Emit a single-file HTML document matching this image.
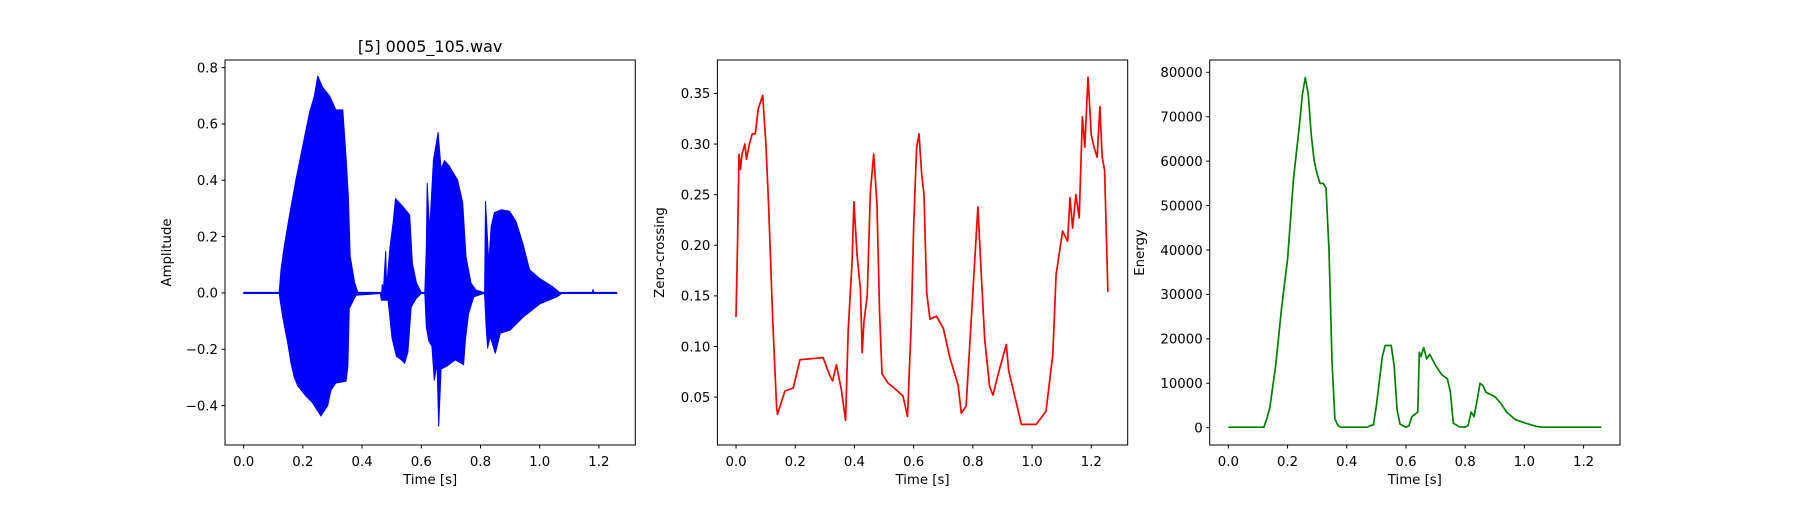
<!DOCTYPE html>
<html><head><meta charset="utf-8"><style>
body{margin:0;background:#fff}
svg text{font-family:"DejaVu Sans","Liberation Sans",sans-serif;font-size:13.3px;fill:#000}
</style></head><body>
<svg id="fig" width="1800" height="500" xmlns="http://www.w3.org/2000/svg"></svg>
<script>
// ---- Waveform envelope data ----
const waveUpT=[0,0.12,0.126,0.137,0.154,0.176,0.199,0.222,0.239,0.25,0.267,0.29,0.312,0.335,0.346,0.354,0.36,0.375,0.386,0.466,0.468,0.472,0.48,0.483,0.494,0.505,0.513,0.539,0.561,0.57,0.584,0.6,0.612,0.617,0.62,0.628,0.641,0.657,0.667,0.678,0.695,0.723,0.74,0.751,0.768,0.785,0.81,0.814,0.817,0.828,0.836,0.847,0.87,0.898,0.92,0.943,0.966,0.999,1.044,1.067,1.178,1.18,1.182,1.26];
const waveUpV=[0.002,0.002,0.08,0.165,0.27,0.40,0.52,0.638,0.70,0.77,0.73,0.70,0.65,0.65,0.48,0.34,0.13,0.035,0.002,0.002,0.03,0.01,0.148,0.02,0.16,0.25,0.335,0.305,0.277,0.105,0.035,0.002,0.002,0.16,0.39,0.22,0.47,0.57,0.44,0.47,0.45,0.40,0.32,0.13,0.035,0.01,0.002,0.002,0.325,0.105,0.235,0.285,0.295,0.29,0.254,0.176,0.082,0.052,0.022,0.002,0.002,0.012,0.002,0.002];
const waveLoT=[0,0.12,0.123,0.132,0.149,0.16,0.171,0.183,0.211,0.233,0.261,0.284,0.295,0.312,0.346,0.352,0.357,0.38,0.462,0.465,0.488,0.501,0.516,0.533,0.544,0.555,0.566,0.583,0.6,0.612,0.617,0.625,0.636,0.644,0.653,0.659,0.667,0.687,0.715,0.743,0.749,0.76,0.777,0.81,0.814,0.819,0.824,0.833,0.85,0.867,0.9,0.945,1.002,1.058,1.075,1.26];
const waveLoV=[-0.002,-0.002,-0.026,-0.085,-0.18,-0.25,-0.30,-0.33,-0.367,-0.39,-0.437,-0.40,-0.345,-0.32,-0.314,-0.26,-0.055,-0.008,-0.002,-0.026,-0.026,-0.16,-0.225,-0.238,-0.25,-0.21,-0.05,-0.02,-0.002,-0.002,-0.12,-0.17,-0.19,-0.31,-0.25,-0.473,-0.27,-0.26,-0.238,-0.255,-0.167,-0.073,-0.014,-0.002,-0.002,-0.12,-0.196,-0.155,-0.214,-0.143,-0.132,-0.085,-0.038,-0.014,-0.002,-0.002];
// ---- Zero-crossing data ----
const zcrT=[0,0.005,0.01,0.015,0.02,0.03,0.035,0.045,0.055,0.065,0.075,0.09,0.101,0.11,0.124,0.137,0.14,0.165,0.193,0.216,0.294,0.317,0.326,0.339,0.356,0.37,0.379,0.392,0.398,0.409,0.42,0.426,0.432,0.443,0.454,0.465,0.476,0.485,0.493,0.513,0.542,0.564,0.579,0.592,0.60,0.61,0.618,0.627,0.635,0.644,0.655,0.677,0.70,0.723,0.75,0.761,0.777,0.80,0.817,0.828,0.84,0.857,0.868,0.885,0.913,0.921,0.964,1.014,1.047,1.07,1.081,1.103,1.12,1.128,1.137,1.148,1.159,1.17,1.178,1.189,1.2,1.209,1.22,1.229,1.237,1.245,1.256];
const zcrV=[0.129,0.20,0.29,0.275,0.29,0.30,0.285,0.30,0.31,0.31,0.335,0.348,0.30,0.24,0.124,0.04,0.033,0.056,0.059,0.087,0.089,0.071,0.066,0.082,0.057,0.027,0.116,0.184,0.243,0.19,0.157,0.094,0.124,0.15,0.253,0.29,0.24,0.133,0.073,0.064,0.057,0.051,0.031,0.124,0.22,0.296,0.31,0.27,0.25,0.153,0.127,0.13,0.118,0.088,0.062,0.034,0.041,0.154,0.238,0.173,0.107,0.06,0.052,0.072,0.102,0.076,0.023,0.023,0.036,0.092,0.171,0.214,0.204,0.247,0.217,0.25,0.227,0.327,0.297,0.366,0.309,0.297,0.287,0.337,0.287,0.274,0.154];
// ---- Energy data ----
const enT=[0,0.12,0.13,0.14,0.16,0.18,0.20,0.22,0.24,0.25,0.26,0.27,0.28,0.29,0.30,0.31,0.32,0.33,0.34,0.35,0.36,0.37,0.38,0.47,0.48,0.49,0.50,0.52,0.53,0.55,0.56,0.57,0.58,0.60,0.61,0.62,0.63,0.64,0.645,0.65,0.66,0.67,0.68,0.70,0.72,0.74,0.75,0.76,0.78,0.80,0.81,0.82,0.83,0.84,0.85,0.86,0.87,0.90,0.92,0.94,0.97,1.00,1.04,1.06,1.26];
const enV=[100,100,2000,4500,14000,27000,38000,56000,68000,75000,78800,75000,66000,60000,57000,55000,55000,54000,40000,15000,2000,500,100,100,500,600,5000,16000,18500,18500,14000,4000,800,100,400,2500,3000,3500,17000,16000,18000,15500,16500,14000,12000,11000,8000,1000,200,100,500,3500,2500,6000,10000,9500,8000,7000,5500,3500,1800,1100,300,100,100];
// ---- tick labels ----
const xTicks=[0,0.2,0.4,0.6,0.8,1.0,1.2];
const ampTicks=[-0.4,-0.2,0,0.2,0.4,0.6,0.8];
const zcrTicks=[0.05,0.10,0.15,0.20,0.25,0.30,0.35];
const enTicks=[0,10000,20000,30000,40000,50000,60000,70000,80000];

const NS="http://www.w3.org/2000/svg";
const fig=document.getElementById('fig');
function mk(tag,attrs,parent){const e=document.createElementNS(NS,tag);for(const k in attrs)e.setAttribute(k,attrs[k]);(parent||fig).appendChild(e);return e;}

const AX_TOP=60,AX_BOT=445,W=410.3;
function axes(left,xmin,xmax,ymin,ymax,name){
  const g=mk('g',{});
  
  
  return {g,left,sx:v=>left+(v-xmin)/(xmax-xmin)*W,sy:v=>AX_BOT-(v-ymin)/(ymax-ymin)*(AX_BOT-AX_TOP)};
}
function frame(a,yt,fmt,ylabel,ylx){
  const g=a.g;
  mk('rect',{x:a.left,y:AX_TOP,width:W,height:AX_BOT-AX_TOP,fill:'none',stroke:'#000','stroke-width':1},g);
  xTicks.forEach(v=>{const x=a.sx(v);
    mk('line',{x1:x,x2:x,y1:AX_BOT,y2:AX_BOT+3.5,stroke:'#000'},g);
    const t=mk('text',{x:x,y:466,'text-anchor':'middle'},g);t.textContent=v.toFixed(1);
    
    });
  yt.forEach(v=>{const y=a.sy(v);
    mk('line',{x1:a.left-3.5,x2:a.left,y1:y,y2:y,stroke:'#000'},g);
    const t=mk('text',{x:a.left-7,y:y+4.8,'text-anchor':'end'},g);t.textContent=fmt(v);
    
    });
  const xl=mk('text',{x:a.left+W/2,y:484,'text-anchor':'middle'},g);xl.textContent='Time [s]';
  
  
  const cy=(AX_TOP+AX_BOT)/2;
  const yl=mk('text',{x:ylx,y:cy,'text-anchor':'middle',transform:`rotate(-90 ${ylx} ${cy})`},g);yl.textContent=ylabel;
  
  
}
function line(a,T,V,color,name){
  const d=T.map((t,i)=>(i?'L':'M')+a.sx(t).toFixed(1)+','+a.sy(V[i]).toFixed(1)).join('');
  const p=mk('path',{d,fill:'none',stroke:color,'stroke-width':1.7,'stroke-linejoin':'round'},a.g);
  
  
}
// Axes 1: waveform
const a1=axes(225,-0.063,1.323,-0.54,0.827,'waveform-plot');
const up=waveUpT.map((t,i)=>a1.sx(t).toFixed(1)+','+a1.sy(waveUpV[i]).toFixed(1));
const lo=waveLoT.map((t,i)=>a1.sx(t).toFixed(1)+','+a1.sy(waveLoV[i]).toFixed(1)).reverse();
const poly=mk('polygon',{points:up.concat(lo).join(' '),fill:'#0000ff',stroke:'#0000ff','stroke-width':1,'stroke-linejoin':'round'},a1.g);


frame(a1,ampTicks,v=>(v<0?'\u2212':'')+Math.abs(v).toFixed(1),'Amplitude',171);
const title=mk('text',{x:225+W/2,y:52,'text-anchor':'middle',style:'font-size:16px'},a1.g);title.textContent='[5] 0005_105.wav';


// Axes 2: zero crossing
const a2=axes(717.4,-0.063,1.323,0.0027,0.383,'zero-crossing-plot');
line(a2,zcrT,zcrV,'#ff0000','zero-crossing-series');
frame(a2,zcrTicks,v=>v.toFixed(2),'Zero-crossing',664);
// Axes 3: energy
const a3=axes(1209.7,-0.063,1.323,-3900,82770,'energy-plot');
line(a3,enT,enV,'#008000','energy-series');
frame(a3,enTicks,v=>String(v),'Energy',1144);
</script>
</body></html>
